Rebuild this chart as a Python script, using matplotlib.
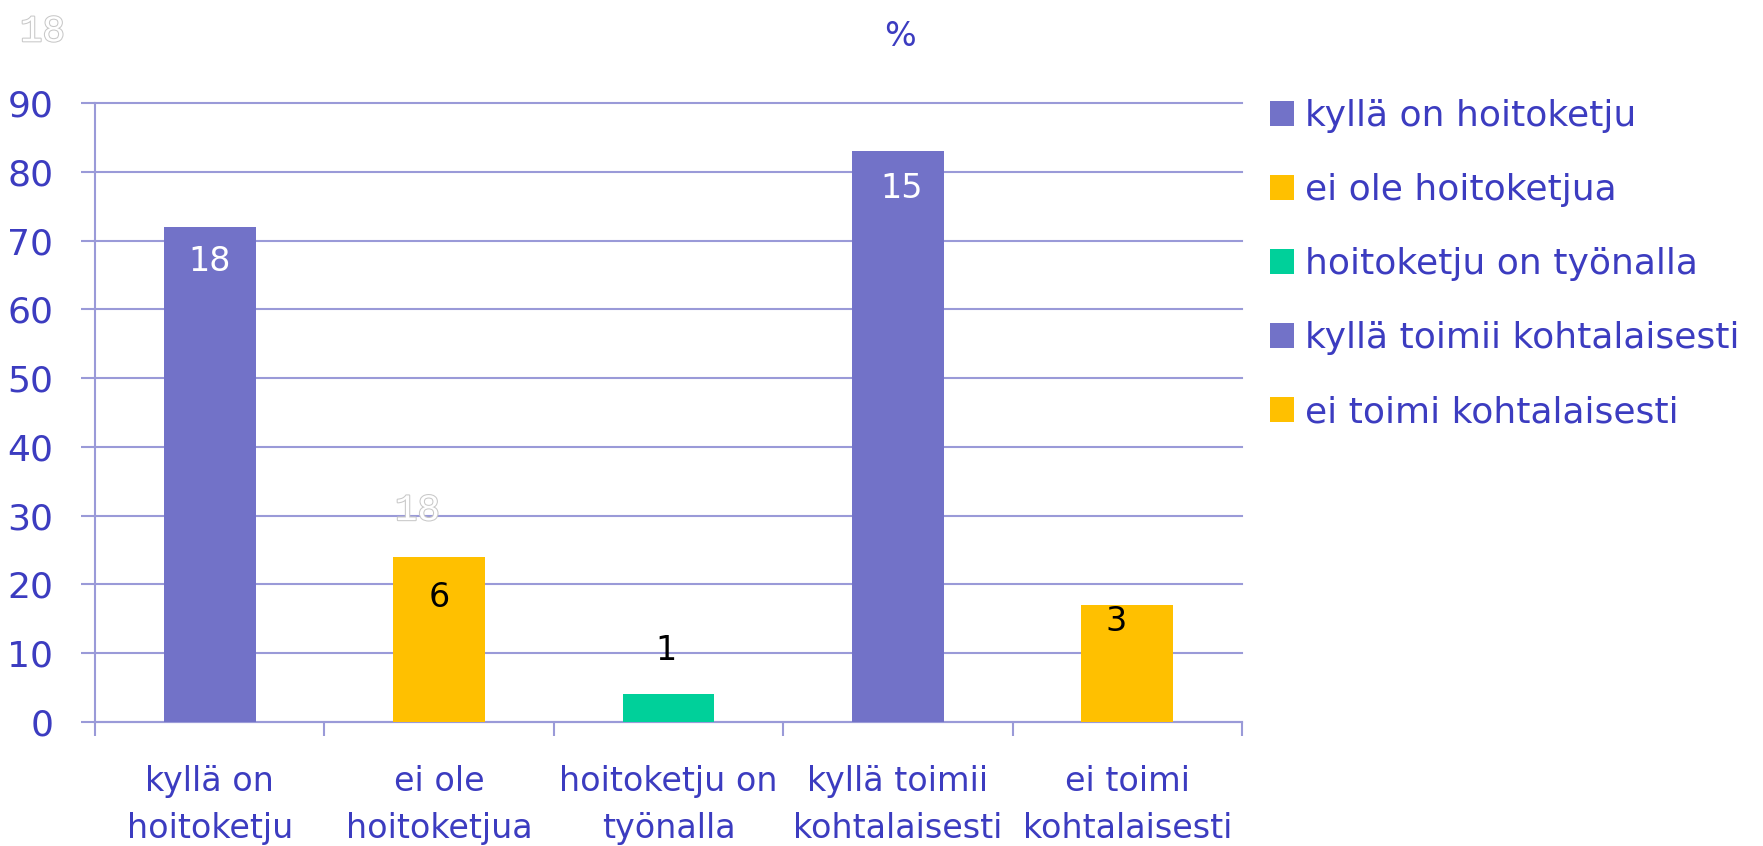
import matplotlib.pyplot as plt
import matplotlib.patheffects as pe

categories = ["kyllä on hoitoketju", "ei ole hoitoketjua", "hoitoketju on työnalla",
              "kyllä toimii kohtalaisesti", "ei toimi kohtalaisesti"]
tick_labels = ["kyllä on\nhoitoketju", "ei ole\nhoitoketjua", "hoitoketju on\ntyönalla",
               "kyllä toimii\nkohtalaisesti", "ei toimi\nkohtalaisesti"]
percent = [72, 24, 4, 83, 17]
counts = [18, 6, 1, 15, 3]

colors = ["#7272c8", "#ffc000", "#00d09a", "#7272c8", "#ffc000"]
label_colors = ["white", "black", "black", "white", "black"]
# label offsets from bar top (points)
label_offsets = [(0, -25), (0, -29), (-2, 32), (3, -27), (-8, -12)]

text_blue = "#3c3cc0"
grid_col = "#9a9ad8"

plt.rcParams['font.family'] = ['DejaVu Sans']

fig = plt.figure(figsize=(17.63, 8.46), dpi=100)
ax = fig.add_axes([0.0539, 0.1466, 0.6506, 0.7317])

x = list(range(len(categories)))
bars = ax.bar(x, percent, width=0.4, color=colors, zorder=3)

for b, n, c, off in zip(bars, counts, label_colors, label_offsets):
    ax.annotate(str(n), (b.get_x() + b.get_width() / 2, b.get_height()),
                xytext=off, textcoords="offset points", ha="center", va="center",
                fontsize=24, color=c, zorder=4)

ax.set_xlim(-0.5, 4.5)
ax.set_ylim(0, 90)
ax.set_yticks(range(0, 91, 10))
ax.yaxis.grid(True, color=grid_col, linewidth=1.5, zorder=0)
for gl in ax.get_ygridlines():
    gl.set_clip_on(False)
ax.set_xticks(x)
ax.set_xticklabels(tick_labels, fontsize=24, color=text_blue, linespacing=1.55)
ax.set_xticks([i - 0.5 for i in range(6)], minor=True)
ax.tick_params(axis="x", which="major", length=0, pad=31)
ax.tick_params(axis="x", which="minor", length=10, width=1.5, color=grid_col)
ax.tick_params(axis="y", length=10, width=1.5, color=grid_col, labelsize=26,
               labelcolor=text_blue, pad=20)
for s in ["top", "right"]:
    ax.spines[s].set_visible(False)
for s in ["left", "bottom"]:
    ax.spines[s].set_color(grid_col)
    ax.spines[s].set_linewidth(1.5)

fig.text(0.5105, 0.9574, "%", fontsize=24, color=text_blue, ha="center", va="center")

for gx, gy in [(0.0241, 0.963), (0.2368, 0.397)]:
    t = fig.text(gx, gy, "18", fontsize=27, family="Liberation Mono", color="white",
                 ha="center", va="center")
    t.set_path_effects([pe.Stroke(linewidth=1.5, foreground="#c8c8c8"), pe.Normal()])

fig.legend(bars.patches, categories, loc="upper left", bbox_to_anchor=(0.7205, 0.883),
           frameon=False, fontsize=26, labelcolor=text_blue, handlelength=0.67,
           handleheight=0.67, handletextpad=0.3, labelspacing=1.11, borderpad=0,
           borderaxespad=0)

fig.savefig("out.png", dpi=100)
